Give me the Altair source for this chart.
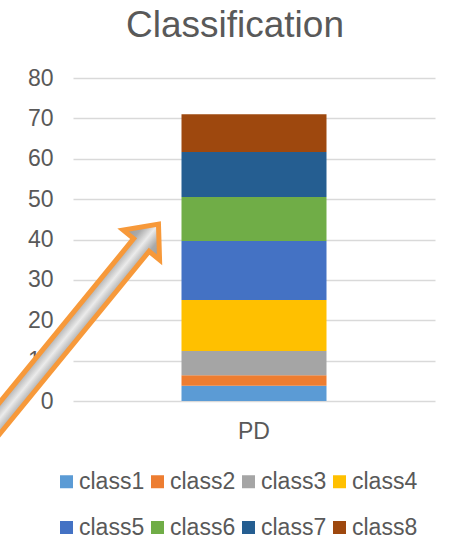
import math
import altair as alt
import pandas as pd

# ---- data ----
categories = ["PD"]
classes = ["class1", "class2", "class3", "class4", "class5", "class6", "class7", "class8"]
values = [3.8, 2.6, 6.0, 12.6, 14.6, 10.9, 11.2, 9.3]
colors = ["#5B9BD5", "#ED7D31", "#A5A5A5", "#FFC000", "#4472C4", "#70AD47", "#255E91", "#9E480E"]
y_ticks = [0, 10, 20, 30, 40, 50, 60, 70, 80]
title_text = ["Classification"]

FONT = "Liberation Sans"
TXT = "#595959"
FS = 23

df = pd.DataFrame({
    "cat": categories * len(classes),
    "cls": classes,
    "val": values,
    "ord": list(range(len(classes))),
})

W, H = 362, 323

bars = alt.Chart(df).mark_bar(size=145).encode(
    x=alt.X("cat:N", title=None,
            axis=alt.Axis(labelAngle=0, ticks=False, tickSize=0, domain=False,
                          labelFontSize=FS, labelFont=FONT, labelColor=TXT,
                          labelPadding=19, grid=False)),
    y=alt.Y("val:Q", stack="zero", title=None,
            scale=alt.Scale(domain=[0, 80], nice=False),
            axis=alt.Axis(values=y_ticks, ticks=False, tickSize=0, domain=False,
                          labelFontSize=FS, labelFont=FONT, labelColor=TXT,
                          labelPadding=20, grid=True, gridColor="#D9D9D9",
                          gridWidth=1.5)),
    color=alt.Color("cls:N",
                    scale=alt.Scale(domain=classes, range=colors),
                    legend=alt.Legend(title=None, orient="none", direction="horizontal",
                                      columns=4, symbolType="square", symbolSize=169,
                                      symbolStrokeWidth=0, labelFontSize=FS,
                                      labelFont=FONT, labelColor=TXT, labelOffset=1,
                                      columnPadding=1, rowPadding=22, padding=0,
                                      legendX=-18, legendY=392)),
    order=alt.Order("ord:Q", sort="ascending"),
)

# ---- chart title as text ----
title = alt.Chart(pd.DataFrame({"t": title_text})).mark_text(
    font=FONT, fontSize=37, color=TXT, align="center", baseline="alphabetic",
).encode(text="t:N", x=alt.value(162), y=alt.value(-41))

# ---- decorative arrow annotation (pixel space, relative to plot origin) ----
tip = (88, 143)
ux, uy = 0.634, -0.775
norm = math.hypot(ux, uy)
ux, uy = ux / norm, uy / norm
nx, ny = -uy, ux
if nx < 0:
    nx, ny = -nx, -ny
outline_sw = [(4, 0), (31, 23.5), (31, 10), (320, 10), (320, -10), (31, -10), (31, -23.5)]
pts = [(-s * ux + w * nx, -s * uy + w * ny) for s, w in outline_sw]
path = "M" + "L".join(f"{x:.2f},{y:.2f}" for x, y in pts) + "Z"

minx = min(p[0] for p in pts); maxx = max(p[0] for p in pts)
miny = min(p[1] for p in pts); maxy = max(p[1] for p in pts)
BW, BH = maxx - minx, maxy - miny


def bb(x, y):
    return ((x - minx) / BW, (y - miny) / BH)


p1 = bb(-30 * nx, -30 * ny)
g = (-uy / BH, ux / BW)
nb = (nx / BW, ny / BH)
L = 60 * (nb[0] * g[0] + nb[1] * g[1]) / (g[0] ** 2 + g[1] ** 2)
p2 = (p1[0] + L * g[0], p1[1] + L * g[1])

grad = alt.Gradient(
    gradient="linear",
    stops=[
        alt.GradientStop(offset=0, color="#8E8E8E"),
        alt.GradientStop(offset=0.33, color="#AAAAAA"),
        alt.GradientStop(offset=0.5, color="#EBEBEB"),
        alt.GradientStop(offset=0.67, color="#AAAAAA"),
        alt.GradientStop(offset=1, color="#8E8E8E"),
    ],
    x1=p1[0], y1=p1[1], x2=p2[0], y2=p2[1],
)

arrow = alt.Chart(pd.DataFrame({"a": [0]})).mark_point(
    shape=path, size=4, filled=True, fill=grad, fillOpacity=1,
    stroke="#F7993A", strokeWidth=5, strokeOpacity=1, opacity=1,
).encode(x=alt.value(tip[0]), y=alt.value(tip[1]))

chart = alt.layer(bars, arrow, title).properties(
    width=W, height=H,
    autosize="none",
    padding={"left": 73, "top": 78, "right": 14, "bottom": 137},
).configure(background="white").configure_view(stroke=None)

chart.save("out.html", embed_options={"renderer": "svg", "actions": False})
